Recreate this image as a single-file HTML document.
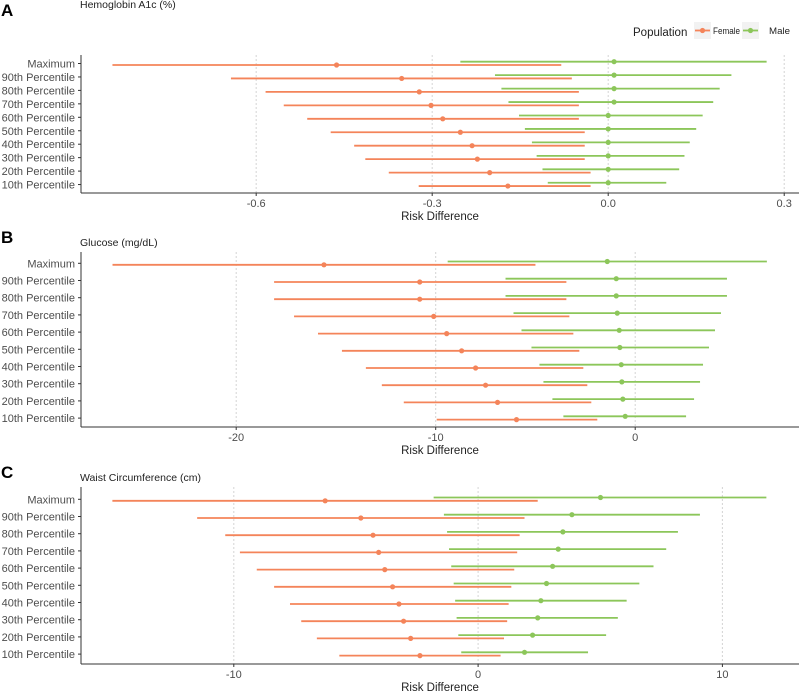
<!DOCTYPE html>
<html><head><meta charset="utf-8"><style>
body{margin:0;background:#fff;}
svg{display:block;font-family:"Liberation Sans",sans-serif;}
</style></head><body>
<svg id="chart" width="800" height="694" viewBox="0 0 800 694"></svg>
<script>
const categories=["Maximum","90th Percentile","80th Percentile","70th Percentile","60th Percentile","50th Percentile","40th Percentile","30th Percentile","20th Percentile","10th Percentile"];
const aFemaleLo=[-0.845,-0.643,-0.584,-0.553,-0.513,-0.473,-0.433,-0.414,-0.374,-0.323];
const aFemalePt=[-0.463,-0.352,-0.322,-0.302,-0.282,-0.252,-0.232,-0.223,-0.202,-0.171];
const aFemaleHi=[-0.080,-0.062,-0.050,-0.050,-0.050,-0.040,-0.040,-0.040,-0.030,-0.030];
const aMaleLo=[-0.252,-0.193,-0.182,-0.170,-0.152,-0.142,-0.130,-0.122,-0.112,-0.103];
const aMalePt=[0.010,0.010,0.010,0.010,0,0,0,0,0,0];
const aMaleHi=[0.270,0.210,0.190,0.179,0.161,0.150,0.139,0.130,0.121,0.099];
const aTicks=[-0.6,-0.3,0.0,0.3];
const aTickLabels=["-0.6","-0.3","0.0","0.3"];
const bFemaleLo=[-26.2,-18.1,-18.1,-17.1,-15.9,-14.7,-13.5,-12.7,-11.6,-9.95];
const bFemalePt=[-15.6,-10.8,-10.8,-10.1,-9.45,-8.7,-8.0,-7.5,-6.9,-5.95];
const bFemaleHi=[-5.0,-3.45,-3.45,-3.3,-3.1,-2.8,-2.6,-2.4,-2.2,-1.9];
const bMaleLo=[-9.4,-6.5,-6.5,-6.1,-5.7,-5.2,-4.8,-4.6,-4.15,-3.6];
const bMalePt=[-1.4,-0.95,-0.95,-0.9,-0.8,-0.77,-0.7,-0.67,-0.62,-0.5];
const bMaleHi=[6.6,4.6,4.6,4.3,4.0,3.7,3.4,3.25,2.95,2.55];
const bTicks=[-20,-10,0];
const bTickLabels=["-20","-10","0"];
const cFemaleLo=[-14.97,-11.5,-10.35,-9.75,-9.06,-8.35,-7.7,-7.24,-6.6,-5.68];
const cFemalePt=[-6.26,-4.8,-4.3,-4.07,-3.82,-3.5,-3.24,-3.05,-2.76,-2.38];
const cFemaleHi=[2.44,1.9,1.7,1.6,1.48,1.36,1.25,1.19,1.06,0.92];
const cMaleLo=[-1.82,-1.4,-1.27,-1.19,-1.1,-1.0,-0.94,-0.88,-0.81,-0.69];
const cMalePt=[5.01,3.84,3.47,3.28,3.05,2.8,2.57,2.44,2.23,1.9];
const cMaleHi=[11.8,9.08,8.18,7.7,7.18,6.6,6.08,5.72,5.24,4.5];
const cTicks=[-10,0,10];
const cTickLabels=["-10","0","10"];

const NS="http://www.w3.org/2000/svg";
const svg=document.getElementById('chart');
const FEM="#f4845a", MAL="#8cc65a";
function mk(tag,attrs,parent,text){
  const e=document.createElementNS(NS,tag);
  for(const k in attrs)e.setAttribute(k,attrs[k]);
  if(text!==undefined)e.textContent=text;
  (parent||svg).appendChild(e);return e;
}
function panel(p){
  const g=mk('g',{});
  
  
  const letter=mk('text',{x:1,y:p.letterY,'font-size':17,'font-weight':'bold',fill:'#000'},g,p.letter);
  
  
  const title=mk('text',{x:80,y:p.titleY,'font-size':10.5,fill:'#222'},g,p.title);
  
  
  const xs=v=>p.x0+v*p.k;
  const ys=i=>p.yTop+i*p.step;
  p.ticks.forEach((t,i)=>{
    const gl=mk('line',{x1:xs(t),x2:xs(t),y1:p.plotTop,y2:p.axisY,stroke:'#d4d4d4','stroke-width':1,'stroke-dasharray':'2,2'},g);
    
    
    mk('line',{x1:xs(t),x2:xs(t),y1:p.axisY,y2:p.axisY+3,stroke:'#333'},g);
    const tl=mk('text',{x:xs(t),y:p.axisY+14,'font-size':11,fill:'#4d4d4d','text-anchor':'middle'},g,p.tickLabels[i]);
    
    
  });
  categories.forEach((c,i)=>{
    const yl=mk('text',{x:75,y:ys(i)+4,'font-size':11,fill:'#4d4d4d','text-anchor':'end'},g,c);
    
    
    mk('line',{x1:78,x2:81,y1:ys(i),y2:ys(i),stroke:'#333'},g);
    [[p.fLo,p.fPt,p.fHi,FEM,1.5,'female'],[p.mLo,p.mPt,p.mHi,MAL,-1.8,'male']].forEach(s=>{
      const y=ys(i)+s[4];
      const ln=mk('line',{x1:xs(s[0][i]),x2:xs(s[2][i]),y1:y,y2:y,stroke:s[3],'stroke-width':1.8},g);
      
      
      const pt=mk('circle',{cx:xs(s[1][i]),cy:y,r:2.6,fill:s[3]},g);
      
      
    });
  });
  mk('line',{x1:81,x2:81,y1:p.plotTop,y2:p.axisY,stroke:'#333','stroke-width':1},g);
  mk('line',{x1:81,x2:799,y1:p.axisY,y2:p.axisY,stroke:'#333','stroke-width':1},g);
  const xt=mk('text',{x:440,y:p.axisY+27,'font-size':11.5,fill:'#222','text-anchor':'middle'},g,'Risk Difference');
  
  
}
panel({id:'hemoglobin',letter:'A',letterY:16,title:'Hemoglobin A1c (%)',titleY:8,x0:608.2,k:586.7,yTop:63.5,step:13.45,plotTop:55,axisY:193,ticks:aTicks,tickLabels:aTickLabels,fLo:aFemaleLo,fPt:aFemalePt,fHi:aFemaleHi,mLo:aMaleLo,mPt:aMalePt,mHi:aMaleHi});
panel({id:'glucose',letter:'B',letterY:243,title:'Glucose (mg/dL)',titleY:246,x0:635.2,k:19.95,yTop:263.3,step:17.2,plotTop:252,axisY:427,ticks:bTicks,tickLabels:bTickLabels,fLo:bFemaleLo,fPt:bFemalePt,fHi:bFemaleHi,mLo:bMaleLo,mPt:bMalePt,mHi:bMaleHi});
panel({id:'waist',letter:'C',letterY:478,title:'Waist Circumference (cm)',titleY:481,x0:478.1,k:24.43,yTop:499.3,step:17.2,plotTop:487,axisY:664,ticks:cTicks,tickLabels:cTickLabels,fLo:cFemaleLo,fPt:cFemalePt,fHi:cFemaleHi,mLo:cMaleLo,mPt:cMalePt,mHi:cMaleHi});

// legend
const lg=mk('g',{});


const lt=mk('text',{x:633,y:36,'font-size':11.5,fill:'#222'},lg,'Population');


[[694,FEM,'Female',713,27],[742,MAL,'Male',769,21]].forEach(d=>{
  const e=mk('g',{},lg);
  
  
  mk('rect',{x:d[0],y:22,width:17,height:17,fill:'#f2f2f2'},e);
  mk('line',{x1:d[0]+1,x2:d[0]+16,y1:30.5,y2:30.5,stroke:d[1],'stroke-width':1.8},e);
  mk('circle',{cx:d[0]+8.5,cy:30.5,r:2.6,fill:d[1]},e);
  mk('text',{x:d[3],y:34,'font-size':9,fill:'#222',textLength:d[4],lengthAdjust:'spacingAndGlyphs'},e,d[2]);
});
</script>
</body></html>
